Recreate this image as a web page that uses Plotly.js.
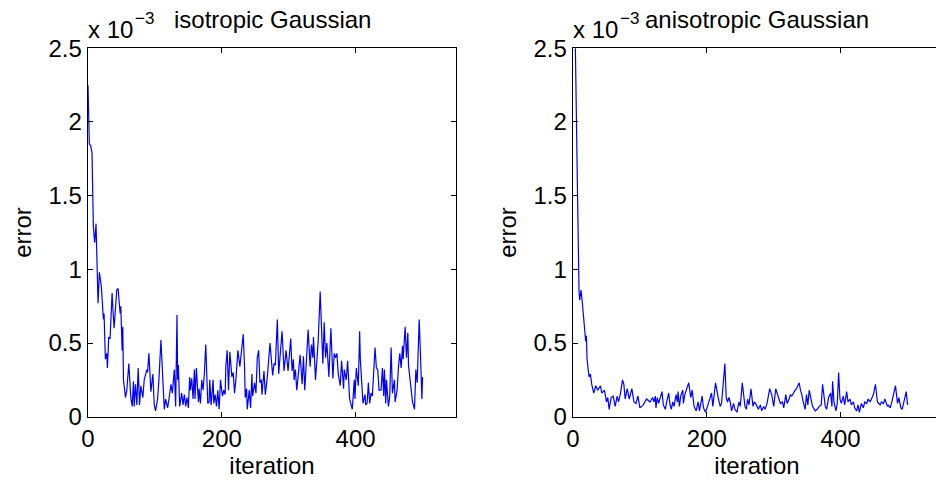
<!DOCTYPE html>
<html>
<head>
<meta charset="utf-8">
<script src="https://cdn.plot.ly/plotly-3.0.1.min.js"></script>
<style>
html, body { margin: 0; padding: 0; overflow: hidden; background: #fff; }
#chart { width: 950px; height: 491px; }
</style>
</head>
<body>
<div id="chart"></div>
<script>
// values are in units of 1e-3
const isoIter = [0,2,4,6,8,10,12,15,17,20,23,24,26,28,29,31,33,36,37,39,43,45,48,49,51,52,53,56,58,61,64,66,68,69,71,73,75,77,79,82,84,88,89,91,94,97,99,101,104,106,109,114,116,119,121,124,126,129,131,133,134,135,137,140,142,144,146,148,150,152,153,155,157,159,160,162,165,166,168,170,172,174,176,179,181,182,184,187,188,190,192,194,196,198,201,203,205,206,208,210,212,215,217,219,221,224,227,232,234,235,237,238,241,243,245,246,249,251,253,255,257,259,260,263,265,268,272,276,278,280,283,285,290,293,296,299,303,305,307,308,310,312,314,317,320,322,324,326,329,332,334,336,337,340,344,347,351,353,355,357,360,363,366,368,370,372,374,377,379,382,383,386,388,391,394,395,398,399,401,404,406,407,411,414,415,417,418,419,421,423,425,429,431,433,435,438,440,442,443,445,446,449,451,453,455,458,459,462,464,466,468,470,471,474,476,478,479,482,485,488,490,492,495,497,499,500];
const isoErr = [2.25,1.85,1.84,1.79,1.29,1.18,1.31,0.77,0.98,0.88,0.66,0.70,0.39,0.43,0.33,0.54,0.53,0.84,0.75,0.60,0.86,0.87,0.70,0.75,0.45,0.61,0.25,0.13,0.18,0.36,0.13,0.07,0.24,0.07,0.22,0.08,0.33,0.08,0.21,0.13,0.25,0.32,0.30,0.43,0.17,0.29,0.08,0.04,0.12,0.25,0.52,0.05,0.12,0.06,0.12,0.22,0.16,0.32,0.07,0.69,0.25,0.35,0.07,0.16,0.08,0.15,0.07,0.13,0.06,0.27,0.18,0.26,0.12,0.32,0.12,0.33,0.10,0.19,0.09,0.25,0.18,0.30,0.49,0.09,0.10,0.25,0.08,0.25,0.09,0.15,0.07,0.18,0.05,0.25,0.14,0.18,0.15,0.34,0.45,0.18,0.44,0.27,0.30,0.16,0.25,0.45,0.34,0.56,0.33,0.13,0.19,0.05,0.18,0.06,0.29,0.14,0.23,0.16,0.40,0.45,0.23,0.25,0.15,0.31,0.15,0.27,0.50,0.28,0.36,0.35,0.66,0.29,0.58,0.31,0.45,0.31,0.53,0.31,0.39,0.25,0.32,0.18,0.27,0.42,0.22,0.41,0.18,0.36,0.59,0.34,0.49,0.40,0.54,0.25,0.51,0.85,0.36,0.64,0.40,0.50,0.27,0.60,0.26,0.43,0.40,0.43,0.29,0.21,0.38,0.19,0.32,0.25,0.38,0.12,0.07,0.05,0.25,0.12,0.33,0.21,0.58,0.39,0.09,0.15,0.08,0.09,0.15,0.23,0.09,0.16,0.14,0.47,0.33,0.32,0.18,0.18,0.33,0.14,0.32,0.09,0.25,0.07,0.14,0.47,0.16,0.25,0.10,0.18,0.34,0.43,0.33,0.48,0.39,0.61,0.40,0.57,0.35,0.23,0.10,0.05,0.32,0.23,0.66,0.41,0.12,0.27];

const anisoIter = [0,2,4,5,6,7,8,9,10,12,14,17,19,20,21,24,26,28,31,34,37,41,43,47,50,52,54,57,60,63,66,68,71,74,76,78,81,84,88,91,94,97,100,105,110,115,119,121,123,124,126,128,133,135,138,140,143,145,147,149,151,154,156,157,159,161,164,165,167,173,176,178,181,184,187,189,193,195,198,201,203,207,209,213,217,220,222,227,229,231,233,235,237,240,242,245,248,250,253,255,257,259,261,263,266,269,271,274,277,280,282,285,287,290,294,297,300,303,305,308,310,313,315,318,320,323,325,327,329,332,334,338,340,342,344,347,349,351,353,355,358,362,365,368,371,373,375,377,379,382,385,387,388,390,393,395,397,399,401,404,406,409,411,414,416,419,421,424,426,428,431,434,436,439,441,444,449,452,455,459,461,464,466,470,471,474,476,478,482,485,487,490,492,498,500];
const anisoErr = [3.6,2.85,2.3,2.0,1.75,1.45,1.0,0.85,0.79,0.86,0.77,0.57,0.51,0.55,0.39,0.27,0.29,0.22,0.16,0.21,0.18,0.21,0.16,0.18,0.10,0.13,0.05,0.13,0.14,0.07,0.14,0.10,0.16,0.25,0.22,0.12,0.19,0.12,0.19,0.10,0.09,0.14,0.06,0.08,0.12,0.10,0.13,0.10,0.14,0.06,0.13,0.09,0.17,0.08,0.05,0.10,0.16,0.08,0.05,0.10,0.07,0.15,0.10,0.17,0.07,0.14,0.18,0.09,0.15,0.23,0.13,0.18,0.07,0.04,0.10,0.04,0.14,0.06,0.03,0.07,0.10,0.16,0.07,0.23,0.13,0.07,0.09,0.36,0.13,0.10,0.13,0.10,0.04,0.09,0.05,0.03,0.10,0.07,0.23,0.13,0.07,0.05,0.12,0.08,0.19,0.07,0.10,0.08,0.05,0.08,0.04,0.07,0.05,0.09,0.19,0.15,0.07,0.19,0.16,0.13,0.09,0.10,0.06,0.15,0.09,0.12,0.15,0.14,0.16,0.18,0.19,0.23,0.18,0.15,0.10,0.05,0.15,0.08,0.18,0.13,0.07,0.04,0.05,0.07,0.08,0.22,0.12,0.07,0.05,0.13,0.16,0.07,0.24,0.10,0.04,0.09,0.30,0.12,0.09,0.14,0.08,0.17,0.10,0.12,0.08,0.10,0.06,0.04,0.08,0.03,0.09,0.06,0.10,0.09,0.12,0.10,0.15,0.22,0.10,0.08,0.10,0.09,0.12,0.07,0.08,0.06,0.09,0.13,0.21,0.09,0.13,0.06,0.05,0.17,0.08];

const subplotTitles = ['isotropic Gaussian', 'anisotropic Gaussian'];
const xTicks = [0, 200, 400];
const yTicks = [0, 0.5, 1, 1.5, 2, 2.5];
const yTickText = ['0', '0.5', '1', '1.5', '2', '2.5'];

const FONT = 'Liberation Sans, Arial, Helvetica, sans-serif';
const W = 950, H = 491;
const lineStyle = { color: '#0000ff', width: 1.2 };

const traces = [
  { x: isoIter, y: isoErr, type: 'scatter', mode: 'lines', line: lineStyle, xaxis: 'x', yaxis: 'y', hoverinfo: 'x+y' },
  { x: anisoIter, y: anisoErr, type: 'scatter', mode: 'lines', line: lineStyle, xaxis: 'x2', yaxis: 'y2', hoverinfo: 'x+y' }
];

function xax(domain, anchor) {
  return {
    domain: domain, anchor: anchor, range: [0, 550],
    tickmode: 'array', tickvals: xTicks, ticktext: xTicks.map(String),
    ticks: 'inside', ticklen: 5, tickwidth: 1, tickcolor: '#000',
    showline: true, linecolor: '#000', linewidth: 1.3, mirror: 'allticks',
    showgrid: false, zeroline: false,
    tickfont: { family: FONT, size: 24, color: '#000' },
    title: { text: 'iteration', font: { family: FONT, size: 24, color: '#000' }, standoff: 4 }
  };
}
function yax(domain, anchor) {
  return {
    domain: domain, anchor: anchor, range: [0, 2.5],
    tickmode: 'array', tickvals: yTicks, ticktext: yTickText,
    ticks: 'inside', ticklen: 5, tickwidth: 1, tickcolor: '#000',
    showline: true, linecolor: '#000', linewidth: 1.3, mirror: 'allticks',
    showgrid: false, zeroline: false,
    tickfont: { family: FONT, size: 24, color: '#000' },
    title: { text: 'error', font: { family: FONT, size: 24, color: '#000' }, standoff: 10 }
  };
}

function txt(text, xpx, ypx, size, xanchor) {
  return { text: text, xref: 'paper', yref: 'paper', x: xpx / W, y: 1 - ypx / H,
           xanchor: xanchor, yanchor: 'middle', showarrow: false,
           font: { family: FONT, size: size, color: '#000' } };
}

const yDom = [(H - 416.7) / H, (H - 48.3) / H];
const layout = {
  width: W, height: H,
  margin: { l: 0, r: 0, t: 0, b: 0 },
  paper_bgcolor: '#fff', plot_bgcolor: '#fff',
  showlegend: false,
  xaxis: xax([88 / W, 456 / W], 'y'),
  yaxis: yax(yDom, 'x'),
  xaxis2: xax([573 / W, 941 / W], 'y2'),
  yaxis2: yax(yDom, 'x2'),
  annotations: [
    txt('x 10', 86, 29, 24, 'left'),
    txt('\u22123', 133, 18, 17, 'left'),
    txt('x 10', 571, 29, 24, 'left'),
    txt('\u22123', 618, 18, 17, 'left'),
    txt(subplotTitles[0], 272, 20, 24, 'center'),
    txt(subplotTitles[1], 757, 20, 24, 'center')
  ]
};

Plotly.newPlot('chart', traces, layout, { displayModeBar: false, staticPlot: true });
</script>
</body>
</html>
